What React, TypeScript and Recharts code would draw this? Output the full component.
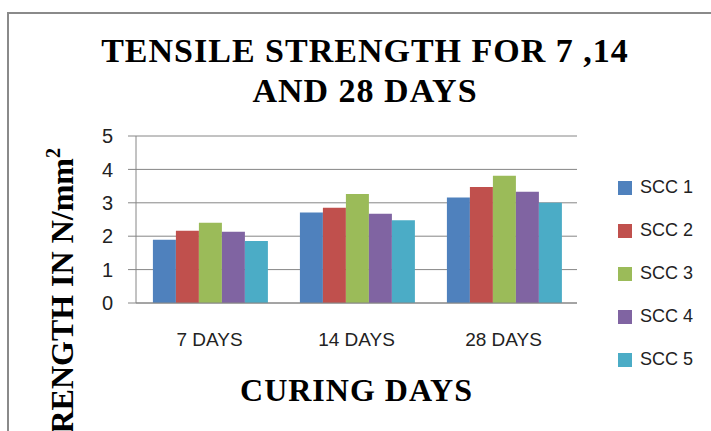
import { BarChart, Bar, XAxis, YAxis, CartesianGrid, Label } from 'recharts';

const categories = ['7 DAYS', '14 DAYS', '28 DAYS'];
const seriesNames = ['SCC 1', 'SCC 2', 'SCC 3', 'SCC 4', 'SCC 5'];
const scc1 = [1.89, 2.71, 3.16];
const scc2 = [2.16, 2.85, 3.47];
const scc3 = [2.4, 3.26, 3.81];
const scc4 = [2.13, 2.67, 3.33];
const scc5 = [1.86, 2.48, 3.0];
const yTicks = [0, 1, 2, 3, 4, 5];
const boundaryTicks = [0, 1, 2, 3];
const colors = ['#4F81BD', '#C0504D', '#9BBB59', '#8064A2', '#4BACC6'];

const seriesValues = [scc1, scc2, scc3, scc4, scc5];
const keys = ['s1', 's2', 's3', 's4', 's5'];

const data = categories.map((name, i) => {
  const row: Record<string, string | number> = { name };
  keys.forEach((k, j) => {
    row[k] = seriesValues[j][i];
  });
  return row;
});

const sans = '"Liberation Sans", Arial, sans-serif';
const serif = '"Liberation Serif", "Times New Roman", serif';
const axisGray = '#868686';

export default function App() {
  return (
    <div style={{ position: 'absolute', left: 0, top: 0, width: 711, height: 431, overflow: 'hidden', background: '#fff' }}>
      {/* chart frame */}
      <div
        style={{
          position: 'absolute',
          left: 7,
          top: 12,
          width: 740,
          height: 460,
          borderLeft: '2px solid #8a8a8a',
          borderTop: '2px solid #8a8a8a',
        }}
      />
      <div
        style={{
          position: 'absolute',
          left: 0,
          top: 30.5,
          width: 730,
          textAlign: 'center',
          fontFamily: serif,
          fontWeight: 'bold',
          fontSize: 34,
          lineHeight: '40px',
          letterSpacing: 1,
          color: '#000',
        }}
      >
        TENSILE STRENGTH FOR 7 ,14
        <br />
        AND 28 DAYS
      </div>

      <div style={{ position: 'absolute', left: 0, top: 0 }}>
        <BarChart
          width={711}
          height={431}
          data={data}
          margin={{ top: 136, right: 134, bottom: 28, left: 0 }}
          barCategoryGap="11.5%"
          barGap={0}
        >
          <CartesianGrid horizontal vertical={false} stroke={axisGray} />
          <XAxis
            xAxisId="bounds"
            type="number"
            domain={[0, 3]}
            ticks={boundaryTicks}
            allowDataOverflow
            height={0}
            axisLine={false}
            tick={false}
            tickSize={8}
            tickLine={{ stroke: axisGray }}
          />
          <XAxis
            xAxisId="cat"
            dataKey="name"
            height={100}
            axisLine={{ stroke: axisGray }}
            tickLine={false}
            tickSize={0}
            tickMargin={30}
            tick={{ fill: '#222', fontSize: 19, fontFamily: sans }}
          >
            <Label
              value="CURING DAYS"
              position="insideBottom"
              offset={2}
              style={{ fontFamily: serif, fontWeight: 'bold', fontSize: 32, fill: '#000', letterSpacing: 1 }}
            />
          </XAxis>
          <YAxis
            width={136}
            domain={[0, 5]}
            ticks={yTicks}
            interval={0}
            axisLine={{ stroke: axisGray }}
            tickLine={{ stroke: axisGray }}
            tickSize={8}
            tickMargin={15}
            tick={{ fill: '#222', fontSize: 20, fontFamily: sans }}
          >
            <Label
              content={(props: any) => {
                const vb = props.viewBox || { y: 136 };
                const x = 73;
                const y = vb.y + 12;
                return (
                  <text
                    x={x}
                    y={y}
                    transform={`rotate(-90 ${x} ${y})`}
                    textAnchor="end"
                    fontFamily={serif}
                    fontWeight="bold"
                    fontSize={32}
                    fill="#000"
                  >
                    TENSILE STRENGTH IN N/mm
                    <tspan dy={-13} fontSize={20}>2</tspan>
                  </text>
                );
              }}
            />
          </YAxis>
          {keys.map((k, j) => (
            <Bar
              key={k}
              xAxisId="cat"
              dataKey={k}
              name={seriesNames[j]}
              fill={colors[j]}
              isAnimationActive={false}
            />
          ))}
        </BarChart>
      </div>

      {/* legend */}
      <div style={{ position: 'absolute', left: 618, top: 166, fontFamily: sans, fontSize: 18, color: '#222' }}>
        {seriesNames.map((n, j) => (
          <div key={n} style={{ height: 43, display: 'flex', alignItems: 'center' }}>
            <span style={{ display: 'inline-block', width: 14, height: 14, background: colors[j], marginRight: 8 }} />
            <span>{n}</span>
          </div>
        ))}
      </div>
    </div>
  );
}
